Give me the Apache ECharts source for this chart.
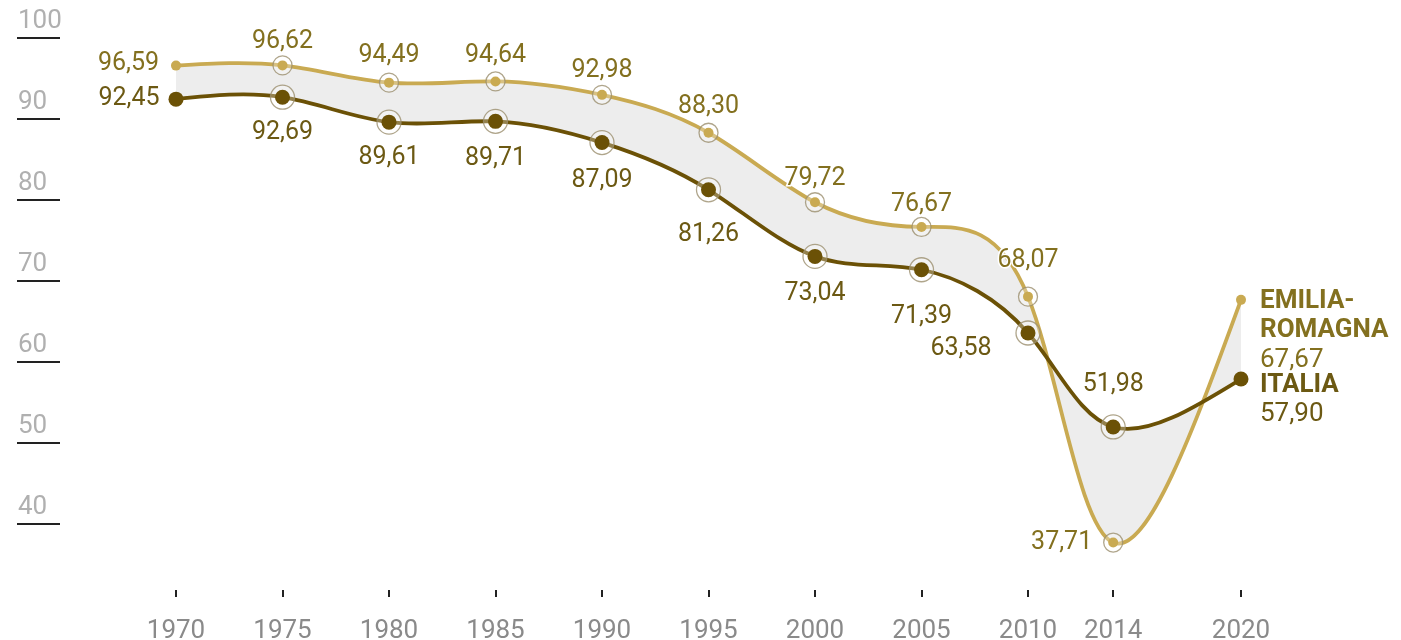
<!DOCTYPE html>
<html>
<head>
<meta charset="utf-8">
<script src="https://cdn.jsdelivr.net/npm/echarts@6/dist/echarts.min.js"></script>
<style>
html,body{margin:0;padding:0;background:#fff;}
#c{width:1401px;height:640px;}
</style>
</head>
<body>
<div id="c"></div>
<script>
const years = [1970, 1975, 1980, 1985, 1990, 1995, 2000, 2005, 2010, 2014, 2020];
const emilia = [96.59, 96.62, 94.49, 94.64, 92.98, 88.30, 79.72, 76.67, 68.07, 37.71, 67.67];
const italia = [92.45, 92.69, 89.61, 89.71, 87.09, 81.26, 73.04, 71.39, 63.58, 51.98, 57.90];
const yTickValues = [40, 50, 60, 70, 80, 90, 100];
const xTickValues = [1970, 1975, 1980, 1985, 1990, 1995, 2000, 2005, 2010, 2014, 2020];
const nameEmilia = ['EMILIA-', 'ROMAGNA'];
const nameItalia = ['ITALIA'];

const C_ER_LINE = '#c9aa52';
const C_IT_LINE = '#6b5106';
const C_ER_TEXT = '#83701f';
const C_IT_TEXT = '#6c5913';
const FONT = 'Roboto';
const LABEL_SIZE = 25;

const fmt = v => v.toFixed(2).replace('.', ',');

// label placement per point (style only)
const erLabelPos = [
  {position:'left', distance:12, offset:[0,-2]},
  {position:'top', distance:6}, {position:'top', distance:9}, {position:'top', distance:8},
  {position:'top', distance:7}, {position:'top', distance:9}, {position:'top', distance:6},
  {position:'top', distance:5}, {position:'top', distance:18},
  {position:'left', distance:16},
  null
];
const itLabelPos = [
  {position:'left', distance:9},
  {position:'bottom', distance:16}, {position:'bottom', distance:16}, {position:'bottom', distance:17},
  {position:'bottom', distance:18}, {position:'bottom', distance:25}, {position:'bottom', distance:17},
  {position:'bottom', distance:27},
  {position:'left', distance:29, offset:[0,16]},
  {position:'top', distance:22},
  null
];

function buildPointData(vals, posArr, endText, endOffset, endDist, color) {
  return years.map((yr, i) => {
    const p = posArr[i];
    if (p) {
      return {value:[yr, vals[i]], label:Object.assign({show:true}, p)};
    }
    return {
      value:[yr, vals[i]],
      label:{
        show:true, position:'right', distance:endDist, offset:endOffset,
        formatter: endText,
        textBorderWidth:0,
        rich:{
          b:{fontFamily:FONT, fontSize:26, fontWeight:'bold', color:color, lineHeight:29.5},
          v:{fontFamily:FONT, fontSize:26, color:color, lineHeight:29.5}
        }
      }
    };
  });
}

const erEnd = nameEmilia.map(s => '{b|' + s + '}').join('\n') + '\n{v|' + fmt(emilia[emilia.length-1]) + '}';
const itEnd = nameItalia.map(s => '{b|' + s + '}').join('\n') + '\n{v|' + fmt(italia[italia.length-1]) + '}';

const ringIdx = years.map((_, i) => i).filter(i => i > 0 && i < years.length - 1);

// natural cubic spline control points (same scheme as d3.curveNatural)
function naturalCP(x) {
  const n = x.length - 1;
  const a = new Array(n), b = new Array(n), r = new Array(n);
  a[0] = 0; b[0] = 2; r[0] = x[0] + 2 * x[1];
  for (let i = 1; i < n - 1; ++i) { a[i] = 1; b[i] = 4; r[i] = 4 * x[i] + 2 * x[i + 1]; }
  a[n - 1] = 2; b[n - 1] = 7; r[n - 1] = 8 * x[n - 1] + x[n];
  for (let i = 1; i < n; ++i) { const m = a[i] / b[i - 1]; b[i] -= m; r[i] -= m * r[i - 1]; }
  a[n - 1] = r[n - 1] / b[n - 1];
  for (let i = n - 2; i >= 0; --i) a[i] = (r[i] - a[i + 1]) / b[i];
  b[n - 1] = (x[n] + a[n - 1]) / 2;
  for (let i = 0; i < n - 1; ++i) b[i] = 2 * x[i + 1] - a[i + 1];
  return [a, b];
}
function segments(pts) {
  const xs = pts.map(p => p[0]), ys = pts.map(p => p[1]);
  const px = naturalCP(xs), py = naturalCP(ys);
  const segs = [];
  for (let i = 0; i < pts.length - 1; i++) {
    segs.push({p0:pts[i], c1:[px[0][i], py[0][i]], c2:[px[1][i], py[1][i]], p1:pts[i + 1]});
  }
  return segs;
}
function pathForward(segs, move) {
  let d = (move ? 'M' : 'L') + segs[0].p0[0] + ' ' + segs[0].p0[1];
  segs.forEach(s => { d += ' C' + s.c1[0] + ' ' + s.c1[1] + ' ' + s.c2[0] + ' ' + s.c2[1] + ' ' + s.p1[0] + ' ' + s.p1[1]; });
  return d;
}
function pathBackward(segs) {
  const last = segs[segs.length - 1];
  let d = ' L' + last.p1[0] + ' ' + last.p1[1];
  for (let i = segs.length - 1; i >= 0; i--) {
    const s = segs[i];
    d += ' C' + s.c2[0] + ' ' + s.c2[1] + ' ' + s.c1[0] + ' ' + s.c1[1] + ' ' + s.p0[0] + ' ' + s.p0[1];
  }
  return d;
}

function renderCurves(params, api) {
  if (params.dataIndex !== 0) return null;
  const ePts = years.map((yr, i) => api.coord([yr, emilia[i]]));
  const iPts = years.map((yr, i) => api.coord([yr, italia[i]]));
  const eSeg = segments(ePts), iSeg = segments(iPts);
  const band = pathForward(eSeg, true) + pathBackward(iSeg) + ' Z';
  return {
    type:'group',
    children:[
      {type:'path', shape:{pathData:band}, style:{fill:'#ededed', stroke:'none'}},
      {type:'path', shape:{pathData:pathForward(eSeg, true)}, style:{fill:'none', stroke:C_ER_LINE, lineWidth:3.8}},
      {type:'path', shape:{pathData:pathForward(iSeg, true)}, style:{fill:'none', stroke:C_IT_LINE, lineWidth:3.8}}
    ]
  };
}

const chart = echarts.init(document.getElementById('c'), null, {renderer:'canvas'});
chart.setOption({
  animation:false,
  backgroundColor:'#fff',
  grid:{left:176, right:160, top:38, bottom:35, containLabel:false, outerBoundsMode:'none'},
  xAxis:{
    type:'value', min:1970, max:2020, offset:-8,
    splitLine:{show:false},
    axisLine:{show:false},
    axisTick:{show:true, inside:true, length:7, customValues:xTickValues, lineStyle:{color:'#222', width:2}},
    axisLabel:{show:true, customValues:xTickValues, margin:21, color:'#8a8a8a', fontFamily:FONT, fontSize:26, formatter:v => String(v)}
  },
  yAxis:{
    type:'value', min:30, max:100, offset:116,
    splitLine:{show:false},
    axisLine:{show:false},
    axisTick:{show:true, length:43, customValues:yTickValues, lineStyle:{color:'#222', width:2}},
    axisLabel:{show:true, customValues:yTickValues, margin:42, align:'left', verticalAlign:'bottom',
      padding:[0,0,4,0], color:'#b0b0b0', fontFamily:FONT, fontSize:26, formatter:v => String(v)}
  },
  series:[
    {
      type:'custom', name:'curves', silent:true, clip:false,
      data: years.map((yr, i) => [yr, emilia[i], italia[i]]),
      encode:{x:0, y:[1, 2]},
      renderItem: renderCurves,
      z:2
    },
    {
      type:'scatter', name:'ringER', silent:true, symbol:'circle', symbolSize:19,
      data: ringIdx.map(i => [years[i], emilia[i]]),
      itemStyle:{color:'rgba(255,255,255,0.35)', borderColor:'#9b8f6e', borderWidth:1.3},
      z:3
    },
    {
      type:'scatter', name:'ringIT', silent:true, symbol:'circle', symbolSize:24,
      data: ringIdx.map(i => [years[i], italia[i]]),
      itemStyle:{color:'rgba(255,255,255,0.35)', borderColor:'#9b8f6e', borderWidth:1.3},
      z:3
    },
    {
      type:'scatter', name:'Emilia-Romagna', symbol:'circle', symbolSize:10,
      data: buildPointData(emilia, erLabelPos, erEnd, [0, 31], 14, C_ER_TEXT),
      itemStyle:{color:C_ER_LINE, opacity:1},
      label:{show:true, formatter:p => fmt(p.value[1]), color:C_ER_TEXT, fontFamily:FONT, fontSize:LABEL_SIZE,
        textBorderColor:'#fff', textBorderWidth:3},
      z:4
    },
    {
      type:'scatter', name:'Italia', symbol:'circle', symbolSize:15,
      data: buildPointData(italia, itLabelPos, itEnd, [0, 21], 11.5, C_IT_TEXT),
      itemStyle:{color:C_IT_LINE, opacity:1},
      label:{show:true, formatter:p => fmt(p.value[1]), color:C_IT_TEXT, fontFamily:FONT, fontSize:LABEL_SIZE,
        textBorderColor:'#fff', textBorderWidth:3},
      z:4
    }
  ]
});
</script>
</body>
</html>
